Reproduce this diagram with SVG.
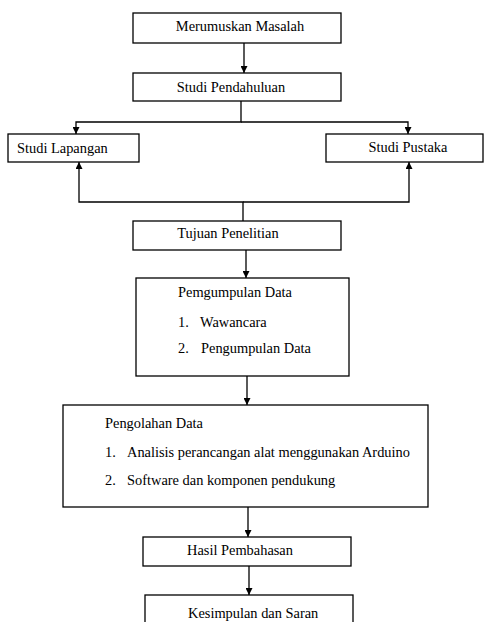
<svg xmlns="http://www.w3.org/2000/svg" width="484" height="622" viewBox="0 0 484 622">
<style>
.box{fill:#fff;stroke:#000;stroke-width:1.3}
.t{font-family:"Liberation Serif","Times New Roman",serif;font-size:14.4px;fill:#000}
.m{text-anchor:middle}
.c{fill:none;stroke:#000;stroke-width:1.3}
</style>
<defs>
<marker id="ah" viewBox="0 0 10 10" refX="10" refY="5" markerWidth="7" markerHeight="7" markerUnits="userSpaceOnUse" orient="auto">
<path d="M0,0 L10,5 L0,10 z" fill="#000"/>
</marker>
</defs>
<rect width="484" height="622" fill="#fff"/>
<g id="connectors">
<line class="c" x1="244" y1="43" x2="244" y2="73" marker-end="url(#ah)"/>
<polyline class="c" points="241,101 241,122 76,122 76,134" marker-end="url(#ah)"/>
<polyline class="c" points="241,122 408,122 408,134" marker-end="url(#ah)"/>
<polyline class="c" points="243,221 243,202 79,202 79,162" marker-end="url(#ah)"/>
<polyline class="c" points="243,202 409,202 409,162" marker-end="url(#ah)"/>
<line class="c" x1="246" y1="250" x2="246" y2="278" marker-end="url(#ah)"/>
<line class="c" x1="247" y1="376" x2="247" y2="405" marker-end="url(#ah)"/>
<line class="c" x1="248" y1="507" x2="248" y2="537" marker-end="url(#ah)"/>
<line class="c" x1="249" y1="566" x2="249" y2="595" marker-end="url(#ah)"/>
</g>
<g id="merumuskan">
<rect class="box" x="133" y="13" width="208" height="30"/>
<text class="t m" x="240" y="31">Merumuskan Masalah</text>
</g>
<g id="pendahuluan">
<rect class="box" x="133" y="73" width="208" height="28"/>
<text class="t m" x="231" y="92">Studi Pendahuluan</text>
</g>
<g id="lapangan">
<rect class="box" x="8" y="134" width="131" height="28"/>
<text class="t" x="17" y="153">Studi Lapangan</text>
</g>
<g id="pustaka">
<rect class="box" x="326" y="134" width="157" height="28"/>
<text class="t m" x="408" y="152">Studi Pustaka</text>
</g>
<g id="tujuan">
<rect class="box" x="133" y="221" width="208" height="29"/>
<text class="t m" x="228" y="238">Tujuan Penelitian</text>
</g>
<g id="pengumpulan">
<rect class="box" x="136" y="278" width="213" height="98"/>
<text class="t" x="178" y="297">Pemgumpulan Data</text>
<text class="t" x="178" y="327">1.</text>
<text class="t" x="200" y="327">Wawancara</text>
<text class="t" x="178" y="353">2.</text>
<text class="t" x="201" y="353">Pengumpulan Data</text>
</g>
<g id="pengolahan">
<rect class="box" x="63" y="405" width="365" height="102"/>
<text class="t" x="105" y="428">Pengolahan Data</text>
<text class="t" x="105" y="457">1.</text>
<text class="t" x="127" y="457">Analisis perancangan alat menggunakan Arduino</text>
<text class="t" x="105" y="485">2.</text>
<text class="t" x="127" y="485">Software dan komponen pendukung</text>
</g>
<g id="hasil">
<rect class="box" x="143" y="537" width="208" height="29"/>
<text class="t m" x="240" y="555">Hasil Pembahasan</text>
</g>
<g id="kesimpulan">
<rect class="box" x="145" y="595" width="208" height="40"/>
<text class="t" x="188" y="618">Kesimpulan dan Saran</text>
</g>
</svg>
